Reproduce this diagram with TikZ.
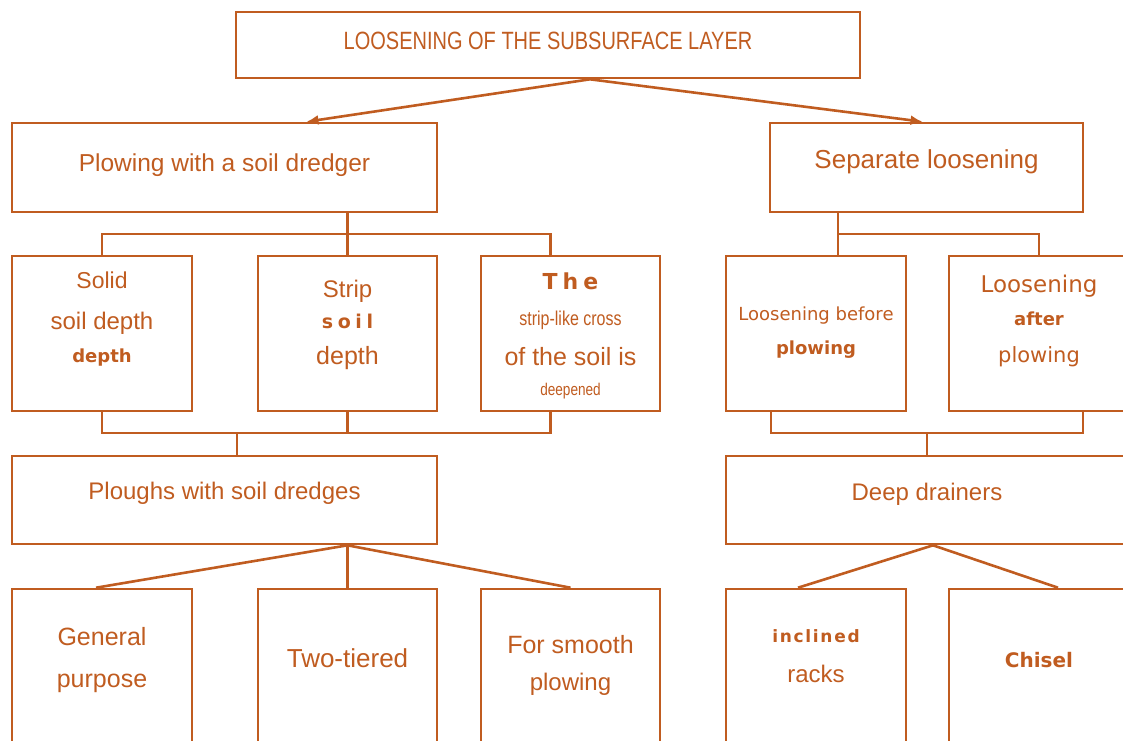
\documentclass[tikz,border=0pt]{standalone}
\usepackage{fontspec}
\setmainfont{Liberation Sans}
\newfontfamily\narrowfont[FakeStretch=0.8]{Liberation Sans}
\newfontfamily\widefont{DejaVu Sans}
\usetikzlibrary{arrows.meta}
\definecolor{rust}{RGB}{192,92,32}
\newcommand{\sz}[1]{\fontsize{#1}{26}\selectfont}
\newcommand{\spaced}[1]{\addfontfeature{LetterSpace=#1}}

\begin{document}
\begin{tikzpicture}[x=1pt,y=-1pt,
  box/.style={draw=rust, text=rust, line width=2.6pt, rectangle, align=center,
    inner sep=0pt, text depth=0pt, font=\sz{24}},
  broad/.style={box, minimum width=425pt, minimum height=89pt},
  tall/.style={box, minimum width=180pt, minimum height=155pt},
  low/.style={box, minimum width=180pt, minimum height=170pt},
  link/.style={draw=rust, line width=2.6pt},
  arrowline/.style={link, -{Latex[length=12pt,width=10pt]}}]
  \useasboundingbox (0,0) rectangle (1123,740);
  \clip (0,0) rectangle (1123,740);
  \path
  node[box, minimum width=624pt, minimum height=66pt, text height=8pt] (top) at (548,45)
    {\narrowfont\sz{25}LOOSENING OF THE SUBSURFACE LAYER}
  node[broad, text height=7pt] (plow) at (224.5,167.5) {\sz{24.5}Plowing with a soil dredger}
  node[broad, minimum width=313pt, text height=2pt] (sep) at (926.5,167.5) {\sz{26}Separate loosening}

  node[tall, text height=57pt] (solid) at (102,333.5)
    {{\sz{23}Solid}\\[15pt]{soil depth}\\[7pt]{\widefont\bfseries\sz{18}depth}}
  node[tall, minimum width=179pt, text height=61pt] (strip) at (347.5,333.5)
    {{Strip}\\[5pt]{\widefont\bfseries\spaced{24}\sz{19}soil}\\[10pt]{\sz{25}depth}}
  node[tall, minimum width=179pt, text height=123pt] (the) at (570.5,333.5)
    {{\widefont\bfseries\spaced{23}\sz{22}The}\\[10pt]{\narrowfont\sz{20}strip-like cross}\\[14pt]{\sz{25}of the soil is}\\[4pt]{\narrowfont\sz{17}deepened}}
  node[tall, text height=41pt] (before) at (816,333.5)
    {{\widefont\sz{18}Loosening before}\\[8pt]{\widefont\bfseries\sz{18}plowing}}
  node[tall, text height=57pt] (after) at (1039,333.5)
    {{\widefont\sz{23}Loosening}\\[7pt]{\widefont\bfseries\sz{18}after}\\[11pt]{\widefont\sz{21}plowing}}

  node[broad, minimum height=88pt, text height=0pt, text depth=2pt] (ploughs) at (224.5,500) {Ploughs with soil dredges}
  node[broad, minimum width=402pt, minimum height=88pt, text height=0pt] (deep) at (927,500) {Deep drainers}

  node[low, text height=26pt] (general) at (102,674) {{\sz{25}General}\\[16pt]{\sz{25}purpose}}
  node[low, minimum width=179pt, text height=0pt, text depth=14pt] (twotier) at (347.5,674) {\sz{26}Two-tiered}
  node[low, minimum width=179pt, text height=32pt] (smooth) at (570.5,674) {{\sz{25}For smooth}\\[11pt]{plowing}}
  node[low, text height=16pt] (inclined) at (816,674)
    {{\widefont\bfseries\spaced{10}\sz{17}inclined}\\[14pt]{racks}}
  node[low, text height=0pt, text depth=14pt] (chisel) at (1039,674) {\widefont\bfseries\sz{20}Chisel}
  ;
  \coordinate (apex) at ([xshift=42pt]top.south);
  \coordinate (upbar) at (0,234);
  \coordinate (lowbar) at (0,433);

  \draw[arrowline] (apex) -- ([xshift=82pt]plow.north);
  \draw[arrowline] (apex) -- ([xshift=-4pt]sep.north);

  \draw[link] (strip.north |- plow.south) -- (strip.north);
  \draw[link] (solid.north) -- (solid.north |- upbar) -- ([xshift=-20pt]the.north |- upbar) -- ([xshift=-20pt]the.north);
  \draw[link] (solid.south) -- (solid.south |- lowbar) -- ([xshift=-20pt]the.south |- lowbar) -- ([xshift=-20pt]the.south);
  \draw[link] (strip.south) -- (strip.south |- lowbar);
  \draw[link] ([xshift=12.5pt]ploughs.north |- lowbar) -- ([xshift=12.5pt]ploughs.north);

  \draw[link] ([xshift=-88.5pt]sep.south) -- ([xshift=22pt]before.north);
  \draw[link] ([xshift=22pt]before.north |- upbar) -- (after.north |- upbar) -- (after.north);
  \draw[link] ([xshift=-45pt]before.south) -- ([xshift=-45pt]before.south |- lowbar) -- ([xshift=44pt]after.south |- lowbar) -- ([xshift=44pt]after.south);
  \draw[link] (deep.north |- lowbar) -- (deep.north);

  \draw[link] (twotier.north |- ploughs.south) -- ([xshift=-6pt]general.north);
  \draw[link] (twotier.north |- ploughs.south) -- (twotier.north);
  \draw[link] (twotier.north |- ploughs.south) -- (smooth.north);
  \draw[link] ([xshift=6pt]deep.south) -- ([xshift=-18pt]inclined.north);
  \draw[link] ([xshift=6pt]deep.south) -- ([xshift=19pt]chisel.north);
\end{tikzpicture}
\end{document}
